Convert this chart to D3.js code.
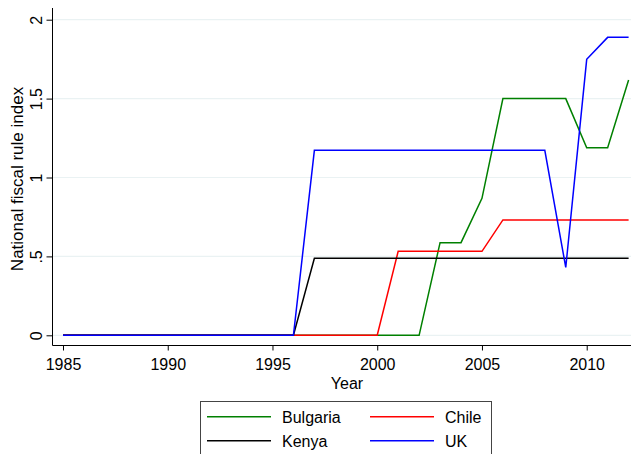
<!DOCTYPE html>
<html>
<head>
<meta charset="utf-8">
<script src="https://cdn.jsdelivr.net/npm/d3@7"></script>
<style>
  html, body { margin: 0; padding: 0; background: #fff; }
  svg { display: block; font-family: "Liberation Sans", Arial, Helvetica, sans-serif; }
</style>
</head>
<body>
<svg id="chart" width="631" height="454"></svg>
<script>
// National fiscal rule index by year, 1985-2012
const years = d3.range(1985, 2013);
const bulgaria = [0,0,0,0,0,0,0,0,0,0,0,0,0,0,0,0,0,0,0.587,0.587,0.868,1.5,1.5,1.5,1.5,1.189,1.189,1.618];
const chile    = [0,0,0,0,0,0,0,0,0,0,0,0,0,0,0,0,0.532,0.532,0.532,0.532,0.532,0.731,0.731,0.731,0.731,0.731,0.731,0.731];
const kenya    = [0,0,0,0,0,0,0,0,0,0,0,0,0.488,0.488,0.488,0.488,0.488,0.488,0.488,0.488,0.488,0.488,0.488,0.488,0.488,0.488,0.488,0.488];
const uk       = [0,0,0,0,0,0,0,0,0,0,0,0,1.172,1.172,1.172,1.172,1.172,1.172,1.172,1.172,1.172,1.172,1.172,1.172,0.43,1.749,1.888,1.888];

const seriesNames = ["Bulgaria", "Chile", "Kenya", "UK"];
const seriesColors = ["#008000", "#ff0000", "#000000", "#0000ff"];
const seriesValues = [bulgaria, chile, kenya, uk];

const xTicks = [1985, 1990, 1995, 2000, 2005, 2010];
const yTicks = [0, 0.5, 1, 1.5, 2];
const yTickLabels = ["0", ".5", "1", "1.5", "2"];

const svg = d3.select("#chart");

const x = d3.scaleLinear().domain([1985, 2012]).range([63, 628.6]);
const y = d3.scaleLinear().domain([0, 2]).range([335.3, 19.7]);

const axisLeftX = 52.5;
const axisBottomY = 345.5;

// horizontal grid lines
svg.append("g")
  .selectAll("line")
  .data(yTicks)
  .join("line")
  .attr("x1", axisLeftX)
  .attr("x2", 631)
  .attr("y1", d => y(d))
  .attr("y2", d => y(d))
  .attr("stroke", "#eaf2f3")
  .attr("stroke-width", 1.2);

// y axis
const yAxis = d3.axisLeft(y)
  .tickValues(yTicks)
  .tickFormat((d, i) => yTickLabels[i])
  .tickSize(6)
  .tickPadding(4);

const gy = svg.append("g")
  .attr("transform", `translate(${axisLeftX},0)`)
  .call(yAxis);
gy.select(".domain").attr("d", `M0,8V${axisBottomY}`).attr("stroke", "#000");
gy.selectAll(".tick line").attr("stroke", "#000");
gy.selectAll(".tick text")
  .attr("font-size", 16)
  .attr("fill", "#000")
  .attr("text-anchor", "middle")
  .attr("dy", 0)
  .attr("x", 0)
  .attr("transform", "translate(-10.5,0) rotate(-90)");

// x axis
const xAxis = d3.axisBottom(x)
  .tickValues(xTicks)
  .tickFormat(d3.format("d"))
  .tickSize(5)
  .tickPadding(8);

const gx = svg.append("g")
  .attr("transform", `translate(0,${axisBottomY})`)
  .call(xAxis);
gx.select(".domain").attr("d", `M${axisLeftX},0H631`).attr("stroke", "#000");
gx.selectAll(".tick line").attr("stroke", "#000");
gx.selectAll(".tick text").attr("font-size", 16).attr("fill", "#000");

// axis titles
svg.append("text")
  .attr("x", 347)
  .attr("y", 388.5)
  .attr("text-anchor", "middle")
  .attr("font-size", 16)
  .text("Year");

svg.append("text")
  .attr("transform", "translate(22.5,179) rotate(-90)")
  .attr("text-anchor", "middle")
  .attr("font-size", 17)
  .text("National fiscal rule index");

// series lines
const line = d3.line()
  .x((d, i) => x(years[i]))
  .y(d => y(d));

svg.append("g")
  .selectAll("path")
  .data(seriesValues)
  .join("path")
  .attr("d", d => line(d))
  .attr("fill", "none")
  .attr("stroke", (d, i) => seriesColors[i])
  .attr("stroke-width", 1.5);

// legend
const legend = svg.append("g");
legend.append("rect")
  .attr("x", 200.5)
  .attr("y", 401.5)
  .attr("width", 291)
  .attr("height", 70)
  .attr("fill", "#fff")
  .attr("stroke", "#444")
  .attr("stroke-width", 1);

const legendCols = [207, 370];
const legendRows = [416.7, 440.7];
const items = legend.selectAll("g.item")
  .data(seriesNames)
  .join("g")
  .attr("class", "item")
  .attr("transform", (d, i) => `translate(${legendCols[i % 2]},${legendRows[Math.floor(i / 2)]})`);

items.append("line")
  .attr("x1", 0)
  .attr("x2", 64)
  .attr("y1", 0)
  .attr("y2", 0)
  .attr("stroke", (d, i) => seriesColors[i])
  .attr("stroke-width", 1.5);

items.append("text")
  .attr("x", 75)
  .attr("y", 6)
  .attr("font-size", 16)
  .text(d => d);
</script>
</body>
</html>
